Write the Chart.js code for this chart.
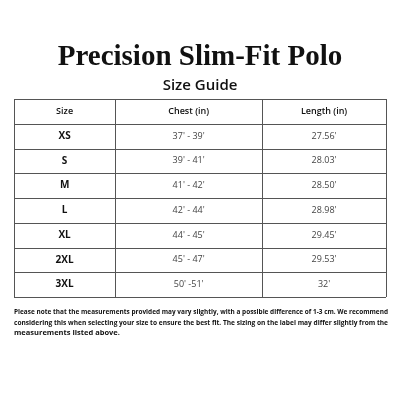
<!DOCTYPE html>
<html>
<head>
<meta charset="utf-8">
<script src="https://cdn.jsdelivr.net/npm/chart.js@4"></script>
<style>
  body { margin: 0; background: #fff; }
</style>
</head>
<body>
<canvas id="chart" width="400" height="400"></canvas>
<script>
// Table data
const headers = ['Size', 'Chest (in)', 'Length (in)'];
const sizes = ['XS', 'S', 'M', 'L', 'XL', '2XL', '3XL'];
const chest = ["37' - 39'", "39' - 41'", "41' - 42'", "42' - 44'", "44' - 45'", "45' - 47'", "50' -51'"];
const length = ["27.56'", "28.03'", "28.50'", "28.98'", "29.45'", "29.53'", "32'"];
const footnote = [
    'Please note that the measurements provided may vary slightly, with a possible difference of 1-3 cm. We recommend',
    'considering this when selecting your size to ensure the best fit. The sizing on the label may differ slightly from the',
    'measurements listed above.'
];

// column edges as fraction of table width
const colEdges = [0, 0.272, 0.667, 1];

const tablePlugin = {
    id: 'tablePlugin',
    afterDraw(chart) {
        const ctx = chart.ctx;
        const x = chart.scales.x;
        const y = chart.scales.y;
        const area = chart.chartArea;
        const rows = ['header'].concat(sizes);
        const half = (y.getPixelForValue(1) - y.getPixelForValue(0)) / 2;
        const colX = colEdges.map(f => x.getPixelForValue(f));

        ctx.save();
        ctx.fillStyle = '#111';
        ctx.textAlign = 'center';
        ctx.textBaseline = 'alphabetic';
        ctx.font = 'bold 29px "Liberation Serif"';
        ctx.fillText('Precision Slim-Fit Polo', 200, 65);
        ctx.font = '600 15px "Open Sans"';
        ctx.fillText('Size Guide', 200, 90);

        // grid
        ctx.strokeStyle = '#555';
        ctx.lineWidth = 1;
        rows.forEach((r, i) => {
            const yy = Math.round(y.getPixelForValue(i) - half) + 0.5;
            ctx.beginPath(); ctx.moveTo(area.left, yy); ctx.lineTo(area.right, yy); ctx.stroke();
        });
        const yb = Math.round(y.getPixelForValue(rows.length - 1) + half) + 0.5;
        ctx.beginPath(); ctx.moveTo(area.left, yb); ctx.lineTo(area.right, yb); ctx.stroke();
        colX.forEach(cx => {
            const xx = Math.round(cx) + 0.5;
            ctx.beginPath(); ctx.moveTo(xx, area.top); ctx.lineTo(xx, area.bottom); ctx.stroke();
        });

        // cells
        ctx.textBaseline = 'middle';
        const mids = [0, 1, 2].map(c => (colX[c] + colX[c + 1]) / 2);
        ctx.font = '600 9px "Open Sans"';
        headers.forEach((h, c) => ctx.fillText(h, mids[c], y.getPixelForValue(0)));
        sizes.forEach((s, i) => {
            const yy = y.getPixelForValue(i + 1);
            ctx.fillStyle = '#111';
            ctx.font = 'bold 10px "Open Sans"';
            ctx.fillText(s, mids[0], yy);
            ctx.fillStyle = '#444';
            ctx.font = '9px "Open Sans"';
            ctx.fillText(chest[i], mids[1], yy);
            ctx.fillText(length[i], mids[2], yy);
        });

        // footnote
        ctx.fillStyle = '#111';
        ctx.textAlign = 'left';
        ctx.font = 'bold 7.5px "Open Sans"';
        footnote.forEach((line, i) => {
            ctx.fillText(line, area.left, 312 + i * 10.5, area.right - area.left + 2);
        });
        ctx.restore();
    }
};

new Chart(document.getElementById('chart'), {
    type: 'bar',
    data: {
        labels: ['header'].concat(sizes),
        datasets: [{ data: [], indexAxis: 'y' }]
    },
    options: {
        responsive: false,
        animation: false,
        indexAxis: 'y',
        layout: { padding: { top: 99, bottom: 103, left: 14, right: 14 } },
        scales: {
            x: { type: 'linear', min: 0, max: 1, display: false },
            y: { type: 'category', display: false, offset: true }
        },
        plugins: { legend: { display: false }, tooltip: { enabled: false } }
    },
    plugins: [tablePlugin]
});
</script>
</body>
</html>
